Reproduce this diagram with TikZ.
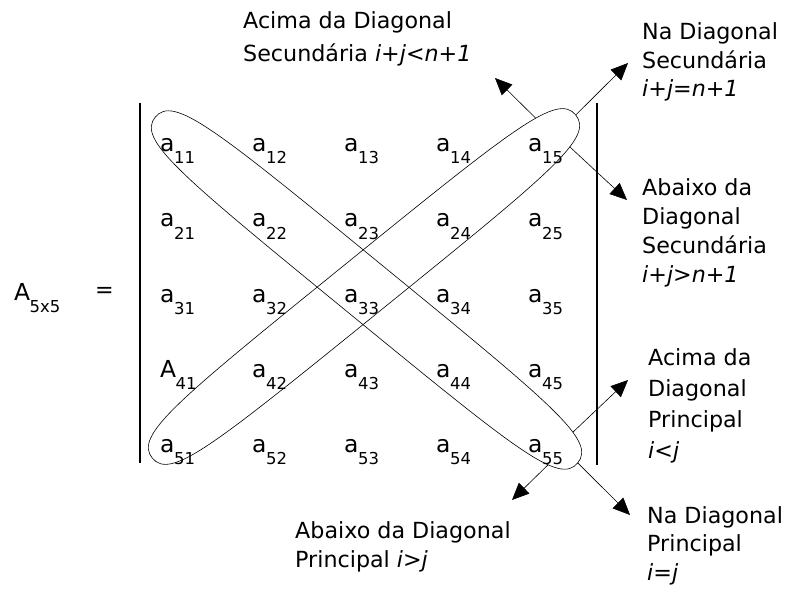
\documentclass[tikz,border=0pt]{standalone}
\usepackage{fontspec}
\setmainfont{DejaVu Sans}
\usetikzlibrary{arrows.meta,positioning}
\newcommand{\ent}[2]{#1\kern-0.5bp\raisebox{-12bp}{\fontsize{16.5}{16.5}\selectfont #2}}

\begin{document}
\begin{tikzpicture}[
  x=1bp, y=-1bp,
  font=\fontsize{22.3}{29}\selectfont,
  entry/.style = {anchor=base west, inner sep=0pt, font=\fontsize{23.5}{28}\selectfont},
  note/.style = {anchor=base west, inner sep=0pt, align=left},
  bar/.style = {line width=1.1bp},
  loop/.style = {line width=0.6bp},
  line/.style = {-{Triangle[length=17bp,width=15bp]}, line width=0.6bp}
  ]
  \useasboundingbox (0,0) rectangle (789,589);

  \node[entry] (A) at (14,300) {\ent{A}{5x5}};
  \node[anchor=base, inner sep=0pt] (eq) at (104.5,297) {=};

  \draw[bar] (140,103) -- (140,463);
  \draw[bar] (597,103) -- (597,465);

  \node[entry] (a11) at (160,152) {\ent{a}{11}};
  \node[entry] (a12) at (252,152) {\ent{a}{12}};
  \node[entry] (a13) at (344,152) {\ent{a}{13}};
  \node[entry] (a14) at (436,152) {\ent{a}{14}};
  \node[entry] (a15) at (528,152) {\ent{a}{15}};
  \node[entry] (a21) at (160,227) {\ent{a}{21}};
  \node[entry] (a22) at (252,227) {\ent{a}{22}};
  \node[entry] (a23) at (344,227) {\ent{a}{23}};
  \node[entry] (a24) at (436,227) {\ent{a}{24}};
  \node[entry] (a25) at (528,227) {\ent{a}{25}};
  \node[entry] (a31) at (160,302) {\ent{a}{31}};
  \node[entry] (a32) at (252,302) {\ent{a}{32}};
  \node[entry] (a33) at (344,302) {\ent{a}{33}};
  \node[entry] (a34) at (436,302) {\ent{a}{34}};
  \node[entry] (a35) at (528,302) {\ent{a}{35}};
  \node[entry] (a41) at (160,377) {\ent{A}{41}};
  \node[entry] (a42) at (252,377) {\ent{a}{42}};
  \node[entry] (a43) at (344,377) {\ent{a}{43}};
  \node[entry] (a44) at (436,377) {\ent{a}{44}};
  \node[entry] (a45) at (528,377) {\ent{a}{45}};
  \node[entry] (a51) at (160,452) {\ent{a}{51}};
  \node[entry] (a52) at (252,452) {\ent{a}{52}};
  \node[entry] (a53) at (344,452) {\ent{a}{53}};
  \node[entry] (a54) at (436,452) {\ent{a}{54}};
  \node[entry] (a55) at (528,452) {\ent{a}{55}};

  \begin{scope}[shift={(366.5,290)}, rotate=-39.3]
    \draw[loop] (273,0) .. controls (273,29) and (218.4,29) .. coordinate[pos=0.33] (sAbaixoPri) (0,29)
      .. controls (-218.4,29) and (-273,29) .. (-273,0)
      .. controls (-273,-29) and (-218.4,-29) .. (0,-29)
      .. controls (218.4,-29) and (273,-29) .. coordinate[pos=0.66] (sAcimaPri) (273,0) -- cycle;
    \coordinate (sNaPri) at (273,0);
  \end{scope}

  \begin{scope}[shift={(364,286.5)}, rotate=39]
    \draw[loop] (272.5,0) .. controls (272.5,29) and (218,29) .. coordinate[pos=0.35] (sAbaixoSec) (0,29)
      .. controls (-218,29) and (-272.5,29) .. (-272.5,0)
      .. controls (-272.5,-29) and (-218,-29) .. (0,-29)
      .. controls (218,-29) and (272.5,-29) .. coordinate[pos=0.6] (sAcimaSec) (272.5,0) -- cycle;
    \coordinate (sNaSec) at (272.5,0);
  \end{scope}

  \coordinate (tAcimaSec) at (495,78);
  \coordinate (tNaSec) at (628,63);
  \coordinate (tAbaixoSec) at (627,200);
  \coordinate (tAcimaPri) at (628,380);
  \coordinate (tAbaixoPri) at (512,500);
  \coordinate (tNaPri) at (630,515);

  \node[note, font=\fontsize{22.3}{34}\selectfont] (acimaSec) at (243,62) {Acima da Diagonal\\Secundária \textit{i+j<n+1}};
  \node[note] (naSec) at (642,97) {Na Diagonal\\Secundária\\\textit{i+j=n+1}};
  \node[note] (abaixoSec) at (642,282) {Abaixo da\\Diagonal\\Secundária\\\textit{i+j>n+1}};
  \node[note, font=\fontsize{22.3}{31}\selectfont] (acimaPri) at (648,458) {Acima da\\Diagonal\\Principal\\\textit{i<j}};
  \node[note] (abaixoPri) at (295,567) {Abaixo da Diagonal\\Principal \textit{i>j}};
  \node[note, font=\fontsize{22.3}{28.5}\selectfont] (naPri) at (647,580) {Na Diagonal\\Principal\\\textit{i=j}};

  \draw[line] (sAcimaSec) -- (tAcimaSec);
  \draw[line] (sNaSec) -- (tNaSec);
  \draw[line] (sAbaixoSec) -- (tAbaixoSec);
  \draw[line] (sAcimaPri) -- (tAcimaPri);
  \draw[line] (sAbaixoPri) -- (tAbaixoPri);
  \draw[line] (sNaPri) -- (tNaPri);
\end{tikzpicture}
\end{document}
